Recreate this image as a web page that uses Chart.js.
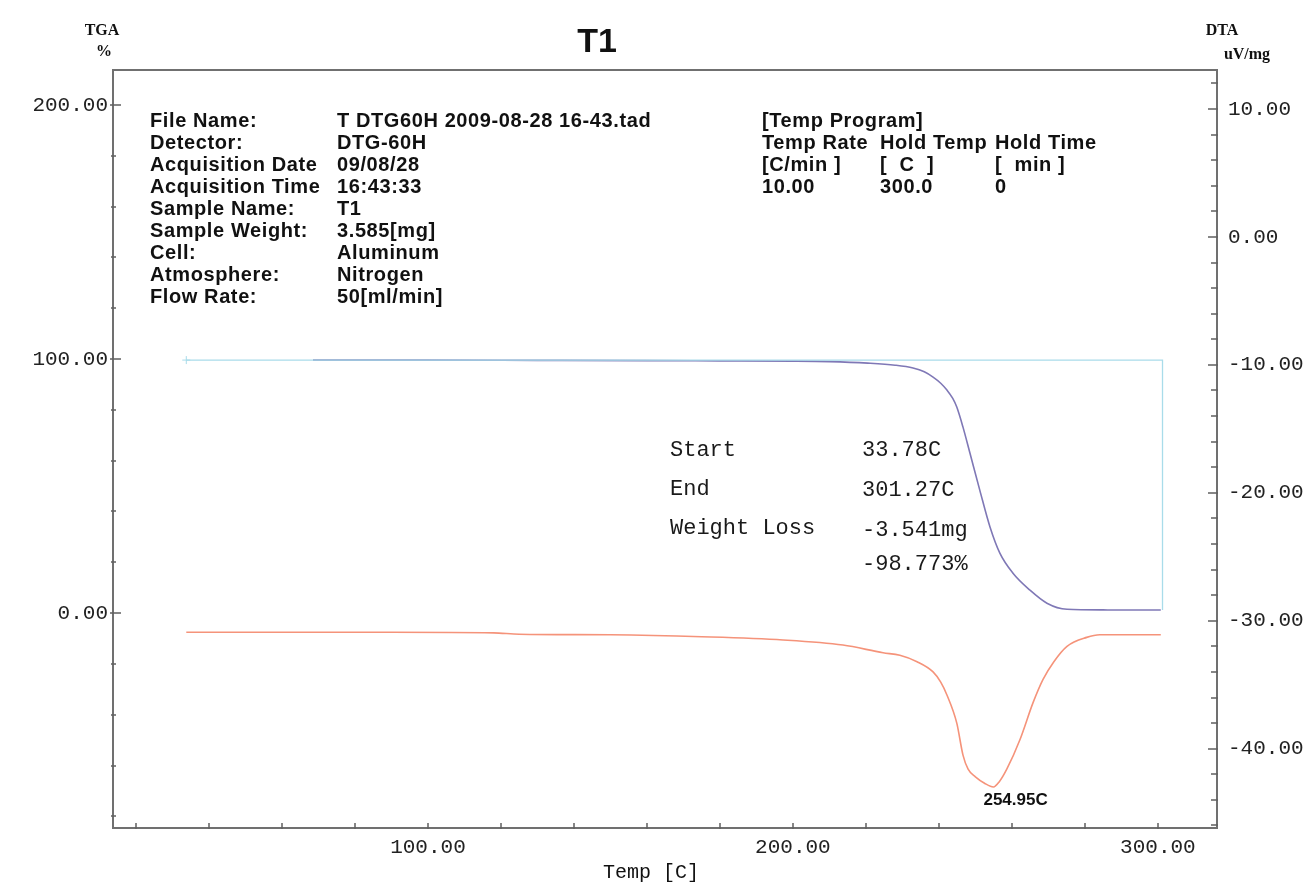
<!DOCTYPE html>
<html><head><meta charset="utf-8">
<script src="https://cdn.jsdelivr.net/npm/chart.js@4.4.1/dist/chart.umd.min.js"></script>
<style>html,body{margin:0;padding:0;background:#fff;} canvas{display:block;}</style>
</head><body>
<canvas id="c" width="1310" height="884"></canvas>
<script>
// TGA curve (temperature °C, weight %)
const tgaTemp = [68.5, 100, 130, 160, 180, 200, 210, 220.5, 228, 232.9, 236, 238.4, 240.5, 242.2, 243.8, 244.9, 246.6, 248.5, 251.2, 254.0, 256.7, 260.3, 264.9, 269.6, 275.1, 285, 300.8];
const tgaPct  = [99.6, 99.6, 99.5, 99.4, 99.3, 99.2, 99.0, 98.4, 97.6, 96.5, 95.0, 92.9, 90.5, 87.8, 84.5, 81.1, 73.2, 63.0, 48.4, 33.9, 23.6, 15.7, 9.1, 3.9, 1.5, 1.25, 1.23];
// DTA curve (temperature °C, uV/mg)
const dtaTemp = [33.78, 60, 90, 118, 125, 150, 175, 197.3, 213.7, 224.7, 229.3, 234.0, 238.4, 240.5, 242.2, 244.9, 246.6, 248.0, 250.0, 252.5, 254.95, 256.5, 258.6, 262.2, 265.8, 268.5, 271.5, 275.1, 280.5, 284.1, 300.8];
const dtaVal  = [-30.9, -30.9, -30.9, -30.95, -31.05, -31.1, -31.25, -31.5, -31.9, -32.5, -32.7, -33.2, -34.0, -34.8, -35.8, -38.0, -40.5, -41.6, -42.2, -42.7, -43.0, -42.6, -41.6, -39.3, -36.4, -34.6, -33.2, -32.0, -31.3, -31.1, -31.1];
// Step line (start / end of weight-loss evaluation)
const stepTemp = [33.78, 301.27, 301.27];
const stepPct  = [99.6, 99.6, 1.227];
// Tick values
const xTicks = [20,40,60,80,100,120,140,160,180,200,220,240,260,280,300];
const xLabelTicks = [100,200,300];
const yLeftTicks = [-80,-60,-40,-20,0,20,40,60,80,100,120,140,160,180,200];
const yLeftLabelTicks = [0,100,200];
const yRightTicks = [-46,-44,-42,-40,-38,-36,-34,-32,-30,-28,-26,-24,-22,-20,-18,-16,-14,-12,-10,-8,-6,-4,-2,0,2,4,6,8,10,12];
const yRightLabelTicks = [-40,-30,-20,-10,0,10];

const infoLabels = ['File Name:','Detector:','Acquisition Date','Acquisition Time','Sample Name:','Sample Weight:','Cell:','Atmosphere:','Flow Rate:'];
const infoValues = ['T DTG60H 2009-08-28 16-43.tad','DTG-60H','09/08/28','16:43:33','T1','3.585[mg]','Aluminum','Nitrogen','50[ml/min]'];
const progRows = [['[Temp Program]','',''],['Temp Rate','Hold Temp','Hold Time'],['[C/min ]','[  C  ]','[  min ]'],['10.00','300.0','0']];
const resultLabels = ['Start','End','Weight Loss',''];
const resultValues = ['33.78C','301.27C','-3.541mg','-98.773%'];
const peakLabel = '254.95C';
const peakTemp = 254.95, peakVal = -43.0;

const pts = (xs, ys) => xs.map((x,i)=>({x:x, y:ys[i]}));
const MONO = '"Liberation Mono", "DejaVu Sans Mono", monospace';
const SANS = '"Liberation Sans", Arial, sans-serif';

const decor = {
  id:'decor',
  afterDraw(chart){
    const ctx = chart.ctx, a = chart.chartArea;
    const sx = chart.scales.x, sl = chart.scales.y, sr = chart.scales.y2;
    ctx.save();
    // frame
    ctx.strokeStyle = '#707070'; ctx.lineWidth = 2;
    ctx.strokeRect(a.left, a.top, a.right - a.left, a.bottom - a.top);
    ctx.lineWidth = 1.5; ctx.strokeStyle = '#606060';
    ctx.beginPath();
    xTicks.forEach(v=>{ const p = Math.round(sx.getPixelForValue(v)); ctx.moveTo(p, a.bottom+1); ctx.lineTo(p, a.bottom-5); });
    yLeftTicks.forEach(v=>{ const p = Math.round(sl.getPixelForValue(v)); const maj = yLeftLabelTicks.includes(v); ctx.moveTo(a.left-(maj?3:2), p); ctx.lineTo(a.left+(maj?8:3), p); });
    yRightTicks.forEach(v=>{ const p = Math.round(sr.getPixelForValue(v)); const maj = yRightLabelTicks.includes(v); ctx.moveTo(a.right+1, p); ctx.lineTo(a.right-(maj?9:6), p); });
    ctx.stroke();
    ctx.fillStyle = '#111';
    // title
    ctx.font = 'bold 34px ' + SANS; ctx.textAlign = 'center'; ctx.textBaseline = 'middle';
    ctx.fillText('T1', 597, 43);
    // axis unit titles
    ctx.font = 'bold 16px "Liberation Serif", serif';
    ctx.fillText('TGA', 102, 31); ctx.fillText('%', 104, 52);
    ctx.fillText('DTA', 1222, 31); ctx.fillText('uV/mg', 1247, 55);
    ctx.font = '20px ' + MONO;
    ctx.fillText('Temp [C]', 651, 873);
    // info block
    ctx.textAlign = 'left';
    ctx.font = 'bold 20px ' + SANS;
    ctx.letterSpacing = '0.6px';
    const rowH = 22;
    infoLabels.forEach((t,i)=>{ ctx.fillText(t, 150, 121 + i*rowH); });
    infoValues.forEach((t,i)=>{ ctx.fillText(t, 337, 121 + i*rowH); });
    const progX = [762, 880, 995];
    progRows.forEach((r,i)=>{ r.forEach((t,j)=>{ if(t) ctx.fillText(t, progX[j], 121 + i*rowH); }); });
    ctx.letterSpacing = '0px';
    // results
    ctx.font = '22px ' + MONO; ctx.fillStyle = '#1a1a1a';
    resultLabels.forEach((t,i)=>{ if(t) ctx.fillText(t, 670, 450 + i*39); });
    const ry = [450, 490, 530, 564];
    resultValues.forEach((t,i)=>{ ctx.fillText(t, 862, ry[i]); });
    // peak label
    ctx.font = 'bold 17px ' + SANS; ctx.fillStyle = '#111';
    const px = sx.getPixelForValue(peakTemp), py = sr.getPixelForValue(peakVal);
    ctx.fillText(peakLabel, px - 10, py + 13);
    ctx.restore();
  }
};

new Chart(document.getElementById('c'), {
  type:'line',
  data:{ datasets:[
    { label:'Step', data: pts(stepTemp, stepPct), yAxisID:'y', borderColor:'#a9dcea', borderWidth:1.3, pointStyle:'cross', pointRadius:[4,0,0], pointBorderColor:'#a9dcea', pointBorderWidth:1, tension:0, fill:false },
    { label:'TGA', data: pts(tgaTemp, tgaPct), yAxisID:'y', borderColor:'#7f78b6', borderWidth:1.6, pointRadius:0, cubicInterpolationMode:'monotone', fill:false },
    { label:'DTA', data: pts(dtaTemp, dtaVal), yAxisID:'y2', borderColor:'#f5937a', borderWidth:1.6, pointRadius:0, cubicInterpolationMode:'monotone', fill:false }
  ]},
  options:{
    responsive:false, animation:false, events:[],
    layout:{ padding:{ top:70, left:0, right:0, bottom:0 } },
    plugins:{ legend:{display:false}, title:{display:false}, tooltip:{enabled:false} },
    scales:{
      x:{ type:'linear', min:13.7, max:316.2, position:'bottom',
          grid:{display:false, drawTicks:false}, border:{display:false},
          afterBuildTicks: s => { s.ticks = xLabelTicks.map(v=>({value:v})); },
          afterFit: s => { s.height = 56; },
          ticks:{ padding:7, color:'#222', font:{family:MONO, size:21}, maxRotation:0, autoSkip:false,
                  callback: v => v.toFixed(2) } },
      y:{ type:'linear', min:-84.6, max:213.8, position:'left',
          grid:{display:false, drawTicks:false}, border:{display:false},
          afterBuildTicks: s => { s.ticks = yLeftLabelTicks.map(v=>({value:v})); },
          afterFit: s => { s.width = 113; },
          ticks:{ padding:5, color:'#222', font:{family:MONO, size:21}, autoSkip:false,
                  callback: v => v.toFixed(2) } },
      y2:{ type:'linear', min:-46.2, max:13.05, position:'right',
          grid:{display:false, drawTicks:false}, border:{display:false},
          afterBuildTicks: s => { s.ticks = yRightLabelTicks.map(v=>({value:v})); },
          afterFit: s => { s.width = 93; },
          ticks:{ padding:11, color:'#222', font:{family:MONO, size:21}, autoSkip:false,
                  callback: v => v.toFixed(2) } }
    }
  },
  plugins:[decor]
});
</script>
</body></html>
